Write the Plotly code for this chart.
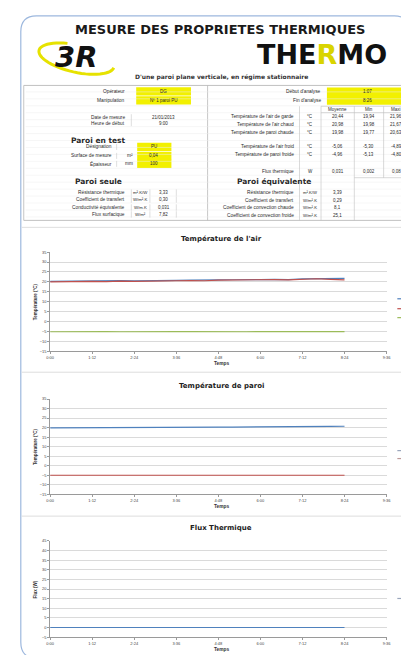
import math
import plotly.graph_objects as go

W, H = 409, 655


def X(px):
    return px / W


def Y(py):
    return 1 - py / H


# ------------------------------------------------------------------ data
TIME_H = [0.0, 0.4, 0.8, 1.2, 1.6, 2.0, 2.4, 2.8, 3.2, 3.6, 4.0,
          4.4, 4.8, 5.2, 5.6, 6.0, 6.4, 6.8, 7.2, 7.6, 8.0, 8.4]
X_TICKS = [0, 1.2, 2.4, 3.6, 4.8, 6.0, 7.2, 8.4, 9.6]
X_TICK_LABELS = ["0:00", "1:12", "2:24", "3:36", "4:48", "6:00", "7:12", "8:24", "9:36"]

AIR_GARDE = [20.3, 20.4, 20.3, 20.5, 20.4, 20.6, 20.5, 20.7, 20.6, 20.8, 20.9,
             20.8, 21.0, 21.1, 21.0, 21.2, 21.3, 21.2, 21.5, 21.7, 21.8, 21.8]
AIR_CHAUD = [20.0, 20.2, 20.1, 20.3, 20.1, 20.4, 20.3, 20.5, 20.4, 20.6, 20.7,
             20.6, 20.9, 21.0, 20.8, 21.1, 21.2, 21.0, 21.4, 21.6, 21.3, 21.0]
AIR_FROID = [-5.1, -5.0, -5.1, -5.0, -5.0, -5.1, -5.0, -5.0, -5.1, -5.0, -5.0,
             -5.1, -5.0, -5.0, -5.1, -5.0, -5.0, -5.1, -5.0, -5.0, -5.1, -5.0]
PAROI_CHAUDE = [19.9, 19.9, 19.9, 20.0, 20.0, 20.0, 20.0, 20.1, 20.1, 20.1, 20.2,
                20.2, 20.2, 20.3, 20.3, 20.4, 20.4, 20.5, 20.5, 20.6, 20.6, 20.7]
PAROI_FROIDE = [-5.0, -5.0, -4.9, -5.0, -5.0, -4.9, -5.0, -5.0, -4.9, -5.0, -5.0,
                -4.9, -5.0, -5.0, -4.9, -5.0, -5.0, -4.9, -5.0, -5.0, -4.9, -5.0]
FLUX = [0.03, 0.03, 0.03, 0.03, 0.03, 0.03, 0.03, 0.03, 0.03, 0.03, 0.03,
        0.03, 0.03, 0.03, 0.03, 0.03, 0.03, 0.03, 0.03, 0.03, 0.03, 0.03]
TEMP_TICKS = [-15, -10, -5, 0, 5, 10, 15, 20, 25, 30, 35]
FLUX_TICKS = [-5, 0, 5, 10, 15, 20, 25, 30, 35, 40, 45]

CHART_TITLES = ["Température de l'air", "Température de paroi", "Flux Thermique"]
Y_TITLES = ["Température (°C)", "Température (°C)", "Flux (W)"]

LEFT_LABELS = ["Opérateur", "Manipulation", "Date de mesure", "Heure de début",
               "Désignation", "Surface de mesure", "Épaisseur",
               "Résistance thermique", "Coefficient de transfert",
               "Conductivité équivalente", "Flux surfacique"]
LEFT_UNITS = ["", "", "", "", "", "m²", "mm", "m².K/W", "W/m².K", "W/m.K", "W/m²"]
LEFT_VALUES = ["DG", "Nº 1 paroi PU", "21/01/2013", "9:00", "PU", "0,04", "100",
               "3,33", "0,30", "0,031", "7,82"]

INFO_LABELS = ["Début d'analyse", "Fin d'analyse"]
INFO_VALUES = ["1:07", "8:26"]
STAT_HEADERS = ["Moyenne", "Min", "Maxi"]
STAT_LABELS = ["Température de l'air de garde", "Température de l'air chaud",
               "Température de paroi chaude", "Température de l'air froid",
               "Température de paroi froide", "Flux thermique"]
STAT_UNITS = ["°C", "°C", "°C", "°C", "°C", "W"]
STAT_MEAN = ["20,44", "20,98", "19,98", "-5,06", "-4,96", "0,031"]
STAT_MIN = ["19,94", "19,98", "19,77", "-5,30", "-5,13", "0,002"]
STAT_MAX = ["21,96", "21,67", "20,63", "-4,89", "-4,80", "0,08"]
EQ_LABELS = ["Résistance thermique", "Coefficient de transfert",
             "Coefficient de convection chaude", "Coefficient de convection froide"]
EQ_UNITS = ["m².K/W", "W/m².K", "W/m².K", "W/m².K"]
EQ_VALUES = ["3,39", "0,29", "8,1", "25,1"]

# ------------------------------------------------------------------ style
BLUE, RED, GREEN = "#4F81BD", "#C0504D", "#9BBB59"
YELLOW = "#F2F000"
GRID = "#DADADA"
TXT = "#2a2a2a"
FONT = "Liberation Sans"

fig = go.Figure()
shapes = []
ann = []


def text(x, y, s, size=5, anchor="center", bold=False, color=TXT, family=FONT, angle=0):
    ann.append(dict(x=X(x), y=Y(y), xref="paper", yref="paper", text=s, showarrow=False,
                    xanchor=anchor, yanchor="middle", textangle=angle,
                    font=dict(size=size, color=color, family=family,
                              weight="bold" if bold else "normal")))


def line(x0, y0, x1, y1, color="#D0D0D0", width=0.6):
    shapes.append(dict(type="line", xref="paper", yref="paper", x0=X(x0), y0=Y(y0),
                       x1=X(x1), y1=Y(y1), line=dict(color=color, width=width)))


def rect(x0, y0, x1, y1, fill, lw=0, lc=None):
    shapes.append(dict(type="rect", xref="paper", yref="paper", x0=X(x0), y0=Y(y0),
                       x1=X(x1), y1=Y(y1), fillcolor=fill, layer="below",
                       line=dict(width=lw, color=lc or fill)))


# ------------------------------------------------------------------ frame
r = 16
x0b, y0b, x1b, y1b = 9, 5, 407, 652
p = (f"M {X(x0b + r)},{Y(y0b)} L {X(x1b - r)},{Y(y0b)} Q {X(x1b)},{Y(y0b)} {X(x1b)},{Y(y0b + r)} "
     f"L {X(x1b)},{Y(y1b - r)} Q {X(x1b)},{Y(y1b)} {X(x1b - r)},{Y(y1b)} "
     f"L {X(x0b + r)},{Y(y1b)} Q {X(x0b)},{Y(y1b)} {X(x0b)},{Y(y1b - r)} "
     f"L {X(x0b)},{Y(y0b + r)} Q {X(x0b)},{Y(y0b)} {X(x0b + r)},{Y(y0b)} Z")
shapes.append(dict(type="path", xref="paper", yref="paper", path=p,
                   line=dict(color="#9DB8DE", width=1.2)))

# ------------------------------------------------------------------ header
text(213, 19, "MESURE DES PROPRIETES THERMIQUES", size=13, bold=True,
     family="DejaVu Sans", color="#1a1a1a")
# 3R logo swoosh
pts = []
for k in range(0, 41):
    a = math.radians(95 + k * 6.2)
    ex = 66 + 38 * math.cos(a) - 6 * math.sin(a)
    ey = 48 - 15 * math.sin(a) + 5 * math.cos(a)
    pts.append((ex, ey))
sw = "M " + " L ".join(f"{X(px)},{Y(py)}" for px, py in pts)
shapes.append(dict(type="path", xref="paper", yref="paper", path=sw,
                   line=dict(color="#E6E200", width=3)))
text(66, 46, "<i>3R</i>", size=29, bold=True, family="DejaVu Sans", color="#111")
text(317, 44, "THE<span style='color:#D9D400'>R</span>MO", size=27, bold=True,
     family="DejaVu Sans", color="#111")
text(401, 27, "3", size=8, bold=True, family="DejaVu Sans", color="#B9C400")
text(214, 67, "D'une paroi plane verticale, en régime stationnaire", size=6,
     bold=True, family="DejaVu Sans", color="#333")

# ------------------------------------------------------------------ tables
TOP, BOT = 75, 211
line(12, TOP, 405, TOP, "#B0B0B0", 0.8)
line(12, BOT, 405, BOT, "#B0B0B0", 0.8)
line(12, TOP, 12, BOT, "#B8B8B8", 0.8)
line(200, TOP, 200, BOT, "#B8B8B8", 0.8)
for yy in range(TOP + 6, BOT, 7):
    line(14, yy + 0.5, 404, yy + 0.5, "#EDEDED", 0.5)

LEFT_ROW_Y = [81, 90, 107, 113, 137, 146, 154, 183, 190, 198, 205]
for i, lab in enumerate(LEFT_LABELS):
    yy = LEFT_ROW_Y[i]
    if i < 2:
        rect(127, yy - 4.2, 183, yy + 4.2, YELLOW)
        text(155, yy, LEFT_VALUES[i], size=4.5)
        text(118, yy, lab, size=4.8, anchor="right")
    elif i < 4:
        text(118, yy, lab, size=4.8, anchor="right")
        line(122, yy - 3, 122, yy + 3, "#C8C8C8", 0.6)
        text(155, yy, LEFT_VALUES[i], size=4.5)
    elif i < 7:
        rect(128, yy - 4.2, 163, yy + 4.2, YELLOW)
        text(104, yy, lab, size=4.8, anchor="right")
        line(107, yy - 3, 107, yy + 3, "#C8C8C8", 0.6)
        text(126, yy, LEFT_UNITS[i], size=4.8, anchor="right")
        text(145, yy, LEFT_VALUES[i], size=4.5)
    else:
        text(118, yy, lab, size=4.8, anchor="right")
        for vx in (122, 141, 168):
            line(vx, yy - 3.2, vx, yy + 3.2, "#C8C8C8", 0.6)
        text(131, yy, LEFT_UNITS[i], size=4.3)
        text(155, yy, LEFT_VALUES[i], size=4.5)
text(88, 130, "Paroi en test", size=7.5, bold=True, family="DejaVu Sans")
text(88, 172, "Paroi seule", size=7.5, bold=True, family="DejaVu Sans")

INFO_ROW_Y = [81, 90]
rect(322, 77, 405, 94.5, YELLOW)
for i, lab in enumerate(INFO_LABELS):
    text(318, INFO_ROW_Y[i], lab, size=4.8, anchor="right")
    text(364, INFO_ROW_Y[i], INFO_VALUES[i], size=4.5)

COL_X = [333, 365, 393]
SEP_X = [294, 316, 350, 380, 405]
for vx in SEP_X:
    line(vx, 96, vx, 168 if vx > 350 else 211, "#C0C0C0", 0.6)
line(316, 96, 405, 96, "#C0C0C0", 0.6)
line(316, 102.5, 405, 102.5, "#C0C0C0", 0.6)
line(350, 168, 405, 168, "#C0C0C0", 0.6)
for j, h in enumerate(STAT_HEADERS):
    text(COL_X[j], 99, h, size=4.5)
STAT_ROW_Y = [106, 114, 122, 137, 145, 162]
for i, lab in enumerate(STAT_LABELS):
    yy = STAT_ROW_Y[i]
    text(290, yy, lab, size=4.8, anchor="right")
    text(305, yy, STAT_UNITS[i], size=4.5)
    for j, v in enumerate((STAT_MEAN[i], STAT_MIN[i], STAT_MAX[i])):
        text(COL_X[j], yy, v, size=4.5)
text(268, 172, "Paroi équivalente", size=7.5, bold=True, family="DejaVu Sans")
EQ_ROW_Y = [183, 191, 198, 206]
for i, lab in enumerate(EQ_LABELS):
    yy = EQ_ROW_Y[i]
    text(290, yy, lab, size=4.8, anchor="right")
    text(305, yy, EQ_UNITS[i], size=4.2)
    text(333, yy, EQ_VALUES[i], size=4.5)

# ------------------------------------------------------------------ charts
for sy in (218, 364, 509):
    line(10, sy, 406, sy, "#D4D4D4", 0.8)

CHART_BOX = [(243, 343), (391, 487), (534, 631)]
PLOT_X = (39, 383)
SERIES = [
    [("Température de l'air de garde", AIR_GARDE, BLUE),
     ("Température de l'air chaud", AIR_CHAUD, RED),
     ("Température de l'air froid", AIR_FROID, GREEN)],
    [("Température de paroi chaude", PAROI_CHAUDE, BLUE),
     ("Température de paroi froide", PAROI_FROIDE, RED)],
    [("Flux thermique", FLUX, BLUE)],
]
TICKS = [TEMP_TICKS, TEMP_TICKS, FLUX_TICKS]
LEGEND_Y = [[290, 300, 309], [443, 451], [592]]
LEGEND_COL = [[BLUE, RED, GREEN], ["#9AA6BC", "#BC9A9A"], ["#9AA6BC"]]

layout_axes = {}
for c in range(3):
    top, bot = CHART_BOX[c]
    xa = "xaxis" if c == 0 else f"xaxis{c + 1}"
    ya = "yaxis" if c == 0 else f"yaxis{c + 1}"
    xr = "x" if c == 0 else f"x{c + 1}"
    yr = "y" if c == 0 else f"y{c + 1}"
    for name, vals, col in SERIES[c]:
        fig.add_trace(go.Scatter(x=TIME_H, y=vals, mode="lines", name=name,
                                 line=dict(color=col, width=1.2), xaxis=xr, yaxis=yr,
                                 showlegend=False))
    tk = TICKS[c]
    layout_axes[xa] = dict(domain=[X(PLOT_X[0]), X(PLOT_X[1])], anchor=yr,
                           range=[X_TICKS[0], X_TICKS[-1]], tickvals=X_TICKS,
                           ticktext=X_TICK_LABELS, showgrid=False, zeroline=False,
                           showline=True, linecolor="#9A9A9A", linewidth=0.7,
                           ticks="outside", ticklen=2, tickcolor="#9A9A9A",
                           tickfont=dict(size=4, color="#444", family=FONT))
    layout_axes[ya] = dict(domain=[Y(bot), Y(top)], anchor=xr,
                           range=[tk[0], tk[-1]], tickvals=tk,
                           showgrid=True, gridcolor=GRID, gridwidth=0.6,
                           zeroline=False, showline=True, linecolor="#9A9A9A",
                           linewidth=0.7, ticks="outside", ticklen=2,
                           tickcolor="#9A9A9A",
                           tickfont=dict(size=4, color="#444", family=FONT))
    text(214, top - 13, CHART_TITLES[c], size=7, bold=True, family="DejaVu Sans",
         color="#222")
    text(214, bot + 12, "Temps", size=4.8, bold=True, color="#333")
    text(24, (top + bot) / 2, Y_TITLES[c], size=4.5, bold=True, color="#333", angle=-90)
    for ly, lc in zip(LEGEND_Y[c], LEGEND_COL[c]):
        line(394, ly, 405, ly, lc, 1.2)

fig.update_layout(width=W, height=H, margin=dict(l=0, r=0, t=0, b=0),
                  paper_bgcolor="white", plot_bgcolor="white",
                  shapes=shapes, annotations=ann, showlegend=False, **layout_axes)

fig.write_html("out.html")
